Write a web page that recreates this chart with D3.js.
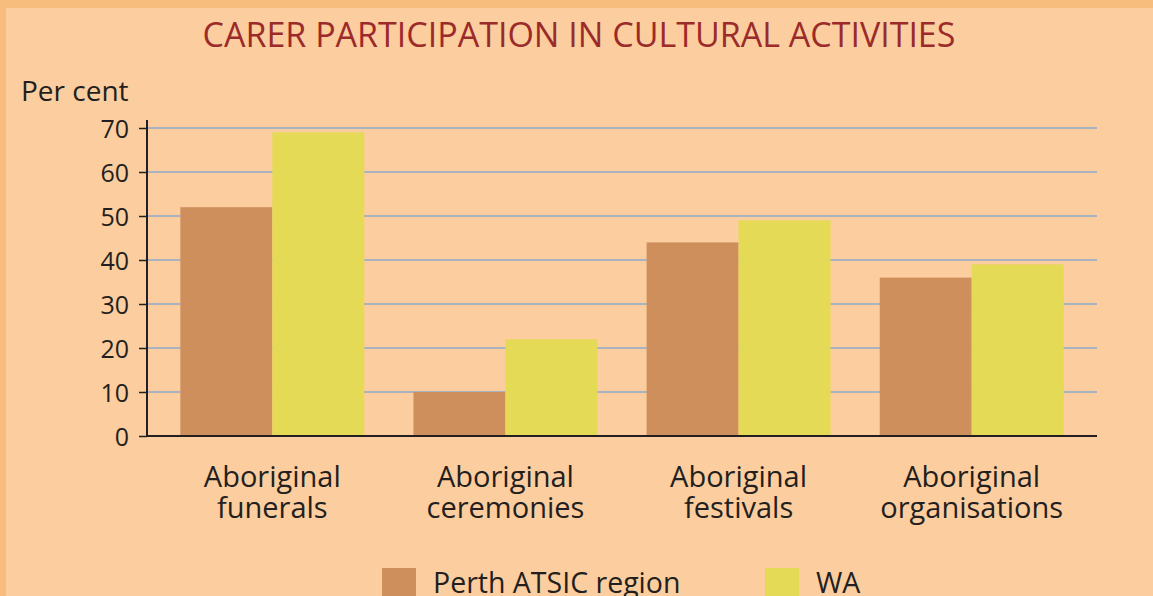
<!DOCTYPE html>
<html>
<head>
<meta charset="utf-8">
<script src="https://cdn.jsdelivr.net/npm/d3@7"></script>
<style>
  body { margin: 0; background: #fccd9e; }
  svg { display: block; font-family: "Open Sans", sans-serif; }
</style>
</head>
<body>
<svg id="chart"></svg>
<script>
var width = 1153;
var height = 596;

// data
var categories = ["Aboriginal funerals", "Aboriginal ceremonies", "Aboriginal festivals", "Aboriginal organisations"];
var seriesNames = ["Perth ATSIC region", "WA"];
var perthValues = [52, 10, 44, 36];
var waValues = [69, 22, 49, 39];
var yTicks = [0, 10, 20, 30, 40, 50, 60, 70];
var colors = ["#cf8f5c", "#e5da55"];

var rows = categories.map((c, i) => ({cat: c, values: [perthValues[i], waValues[i]]}));

var svg = d3.select("#chart")
    .attr("width", width)
    .attr("height", height);

// background + orange frame on top and left
svg.append("rect").attr("width", width).attr("height", height).attr("fill", "#f7bd7c");
svg.append("rect").attr("x", 6).attr("y", 8).attr("width", width - 6).attr("height", height - 8).attr("fill", "#fccd9e");

var xScale = d3.scaleBand()
    .domain(categories)
    .range([147, 1097])
    .paddingInner(0.211)
    .paddingOuter(0.143);

var xSub = d3.scaleBand()
    .domain(seriesNames)
    .range([0, xScale.bandwidth()]);

var yScale = d3.scaleLinear()
    .domain([0, 70])
    .range([436, 128]);

// gridlines
svg.append("g")
  .selectAll("line")
  .data(yTicks.filter(d => d > 0))
  .enter()
  .append("line")
    .attr("x1", 147)
    .attr("x2", 1097)
    .attr("y1", d => yScale(d))
    .attr("y2", d => yScale(d))
    .attr("stroke", "#a9b2bf")
    .attr("stroke-width", 2);

// bars
svg.append("g")
  .selectAll("g")
  .data(rows)
  .enter()
  .append("g")
    .attr("transform", d => `translate(${xScale(d.cat)},0)`)
  .selectAll("rect")
  .data(d => d.values.map((v, j) => ({name: seriesNames[j], value: v, j: j})))
  .enter()
  .append("rect")
    .attr("x", d => xSub(d.name))
    .attr("width", xSub.bandwidth())
    .attr("y", d => yScale(d.value))
    .attr("height", d => yScale(0) - yScale(d.value))
    .attr("fill", d => colors[d.j]);

// y axis
var yAxis = d3.axisLeft(yScale)
    .tickValues(yTicks)
    .tickSize(8)
    .tickPadding(10)
    .tickSizeOuter(0);

var yG = svg.append("g")
    .attr("transform", "translate(147,0)")
    .call(yAxis);
yG.select(".domain").remove();
yG.selectAll(".tick line").attr("stroke", "#231f20").attr("stroke-width", 1.5);
yG.selectAll(".tick text")
    .attr("fill", "#231f20")
    .attr("font-family", "Open Sans")
    .attr("font-size", 25)
    .attr("dy", "0.36em");

svg.append("line")
    .attr("x1", 147).attr("x2", 147)
    .attr("y1", yScale(70) - 8).attr("y2", yScale(0))
    .attr("stroke", "#231f20")
    .attr("stroke-width", 2);

// x baseline
svg.append("line")
    .attr("x1", 147).attr("x2", 1097)
    .attr("y1", yScale(0)).attr("y2", yScale(0))
    .attr("stroke", "#231f20")
    .attr("stroke-width", 2);

// category labels, two lines each
var catLabels = svg.append("g")
  .selectAll("g")
  .data(categories)
  .enter()
  .append("g")
    .attr("transform", d => `translate(${xScale(d) + xScale.bandwidth() / 2},0)`);

catLabels.selectAll("text")
  .data(d => d.split(" "))
  .enter()
  .append("text")
    .attr("y", (d, i) => 487 + i * 31)
    .attr("text-anchor", "middle")
    .attr("font-size", 29)
    .attr("fill", "#231f20")
    .text(d => d);

// title
svg.append("text")
    .attr("x", 579)
    .attr("y", 47)
    .attr("text-anchor", "middle")
    .attr("font-size", 34)
    .attr("fill", "#9b2b2b")
    .text("CARER PARTICIPATION IN CULTURAL ACTIVITIES");

// y axis title
svg.append("text")
    .attr("x", 21)
    .attr("y", 101)
    .attr("font-size", 28)
    .attr("fill", "#231f20")
    .text("Per cent");

// legend
var legendX = [382, 765];
var legend = svg.append("g")
  .selectAll("g")
  .data(seriesNames)
  .enter()
  .append("g")
    .attr("transform", (d, i) => `translate(${legendX[i]},568)`);

legend.append("rect")
    .attr("width", 34)
    .attr("height", 34)
    .attr("fill", (d, i) => colors[i]);

legend.append("text")
    .attr("x", 51)
    .attr("y", 25)
    .attr("font-size", 28.5)
    .attr("fill", "#231f20")
    .text(d => d);
</script>
</body>
</html>
